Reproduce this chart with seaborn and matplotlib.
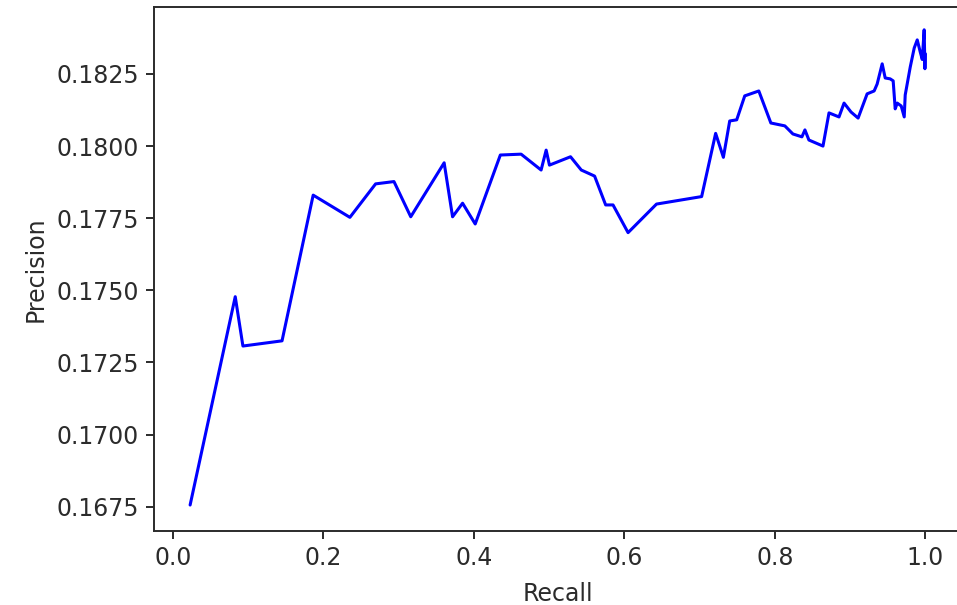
import matplotlib
matplotlib.use("Agg")
import matplotlib.pyplot as plt
import seaborn as sns
import pandas as pd

# Precision-recall curve points
recall = [
    0.0227, 0.0827, 0.0929, 0.1449, 0.1863, 0.2351, 0.2693, 0.2937, 0.3160,
    0.3604, 0.3716, 0.3849, 0.4017, 0.4351, 0.4627, 0.4893, 0.4960, 0.5004,
    0.5284, 0.5427, 0.5604, 0.5751, 0.5849, 0.6049, 0.6427, 0.7027, 0.7213,
    0.7316, 0.7400, 0.7493, 0.7600, 0.7787, 0.7947, 0.8133, 0.8240, 0.8360,
    0.8400, 0.8453, 0.8640, 0.8720, 0.8853, 0.8920, 0.9013, 0.9107, 0.9227,
    0.9320, 0.9360, 0.9427, 0.9467, 0.9533, 0.9573, 0.9600, 0.9627, 0.9680,
    0.9720, 0.9733, 0.9800, 0.9853, 0.9893, 0.9933, 0.9960, 0.9985, 0.9995,
    1.0000,
]
precision = [
    0.16756, 0.17478, 0.17307, 0.17325, 0.17830, 0.17753, 0.17869, 0.17877, 0.17755,
    0.17942, 0.17755, 0.17802, 0.17730, 0.17969, 0.17972, 0.17917, 0.17986, 0.17934,
    0.17963, 0.17917, 0.17896, 0.17796, 0.17796, 0.17700, 0.17799, 0.17825, 0.18044,
    0.17961, 0.18087, 0.18091, 0.18174, 0.18191, 0.18080, 0.18070, 0.18042, 0.18032,
    0.18056, 0.18021, 0.18000, 0.18115, 0.18101, 0.18149, 0.18118, 0.18097, 0.18181,
    0.18191, 0.18215, 0.18285, 0.18236, 0.18233, 0.18226, 0.18129, 0.18149, 0.18139,
    0.18101, 0.18177, 0.18274, 0.18340, 0.18368, 0.18326, 0.18300, 0.18403, 0.18268,
    0.18320,
]
y_ticks = [0.1675, 0.1700, 0.1725, 0.1750, 0.1775, 0.1800, 0.1825]
x_ticks = [0.0, 0.2, 0.4, 0.6, 0.8, 1.0]

sns.set_style("ticks")
plt.rcParams["font.family"] = ["DejaVu Sans"]
plt.rcParams["text.color"] = "#2b2b2b"
plt.rcParams["axes.labelcolor"] = "#2b2b2b"
plt.rcParams["xtick.color"] = "#2b2b2b"
plt.rcParams["ytick.color"] = "#2b2b2b"

df = pd.DataFrame({"Recall": recall, "Precision": precision})

fig = plt.figure(figsize=(9.57, 6.05), dpi=100)
ax = fig.add_axes([154 / 957, 1 - 530.7 / 605, 808 / 957, 523.7 / 605])

sns.lineplot(data=df, x="Recall", y="Precision", ax=ax, color="#0000ff",
             linewidth=2.2, sort=False, estimator=None)

ax.set_xlim(-0.0253, 1.0488)
ax.set_ylim(0.16667, 0.18482)
ax.set_xticks(x_ticks)
ax.set_xticklabels([f"{t:.1f}" for t in x_ticks])
ax.set_yticks(y_ticks)
ax.set_yticklabels([f"{t:.4f}" for t in y_ticks])

ax.tick_params(axis="both", labelsize=17, length=6, width=1.4, pad=5)
ax.set_xlabel("Recall", fontsize=17, labelpad=9)
ax.set_ylabel("Precision", fontsize=17, labelpad=6)
for side in ax.spines.values():
    side.set_linewidth(1.4)
    side.set_color("#2b2b2b")

fig.savefig("out.png", dpi=100)
